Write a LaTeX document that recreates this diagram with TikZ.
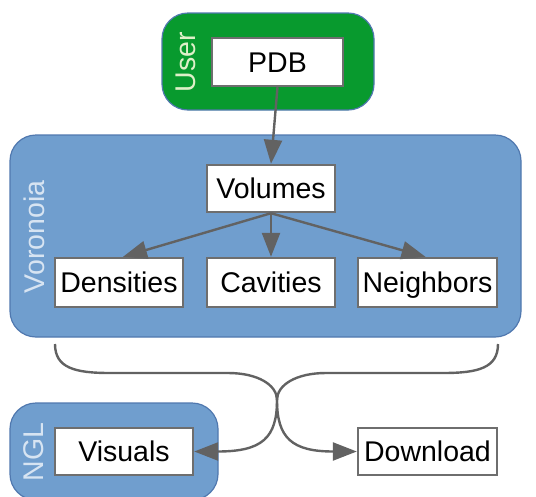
\documentclass[tikz,border=0pt]{standalone}
\usepackage{fontspec}
\setmainfont{Liberation Sans}
\usetikzlibrary{arrows.meta}
\definecolor{vblue}{RGB}{112,158,206}
\definecolor{vborder}{RGB}{80,120,175}
\definecolor{ugreen}{RGB}{8,154,46}
\definecolor{edgegray}{RGB}{98,98,98}
\definecolor{boxgray}{RGB}{110,110,110}
\definecolor{lbllight}{RGB}{215,228,242}
\definecolor{lblgreen}{RGB}{222,240,200}
\tikzset{
  cluster/.style={draw=vborder, line width=1.2pt, rounded corners=26pt, inner sep=0pt},
  wbox/.style={draw=boxgray, fill=white, line width=2.4pt, inner sep=0pt, text height=20.5pt, text depth=0pt, font=\fontsize{28.5}{30}\selectfont},
  clabel/.style={rotate=90, font=\fontsize{28.5}{30}\selectfont, inner sep=0pt},
  edge/.style={draw=edgegray, line width=2.4pt, -{Triangle[length=24pt,width=18pt]}},
  bline/.style={draw=edgegray, line width=2.4pt}
}
\begin{document}
\begin{tikzpicture}[x=1pt,y=-1pt]
\useasboundingbox (0,0) rectangle (536,496);
\clip (0,0) rectangle (536,496);
% clusters
\node[cluster, fill=ugreen, minimum width=212pt, minimum height=97pt] (user) at (268,61.5) {};
\node[cluster, fill=vblue, minimum width=511pt, minimum height=202pt] (vor) at (265.5,236) {};
\node[cluster, fill=vblue, minimum width=208pt, minimum height=97pt] (ngl) at (114,451.5) {};
% cluster labels
\node[clabel, text=lblgreen] (userlbl) at (186,62) {User};
\node[clabel, text=lbllight] (vorlbl) at (34,237) {Voronoia};
\node[clabel, text=lbllight] (ngllbl) at (34,452) {NGL};
% boxes
\node[wbox, minimum width=131pt, minimum height=48pt] (pdb) at (277.5,62) {PDB};
\node[wbox, minimum width=128pt, minimum height=47pt] (vol) at (271,188.5) {Volumes};
\node[wbox, minimum width=128pt, minimum height=49pt] (den) at (119,282.5) {Densities};
\node[wbox, minimum width=128pt, minimum height=49pt] (cav) at (271,282.5) {Cavities};
\node[wbox, minimum width=139pt, minimum height=49pt] (nei) at (427.5,282.5) {Neighbors};
\node[wbox, minimum width=138pt, minimum height=47pt] (vis) at (124,451.5) {Visuals};
\node[wbox, minimum width=139pt, minimum height=47pt] (dow) at (427.5,451.5) {Download};
% edges
\draw[edge] (pdb.south) -- (vol.north);
\draw[edge] (vol.south) -- ([xshift=4pt]den.north);
\draw[edge] (vol.south) -- (cav.north);
\draw[edge] (vol.south) -- ([xshift=-2pt]nei.north);
% brace-like connectors
\coordinate (ls) at (55,344);
\coordinate (rs) at (498,344);
\coordinate (mid) at (277,400);
\draw[bline] (ls) .. controls (55,368) and (75,373) .. (110,373) -- (228,373)
  .. controls (258,373) and (277,385) .. (mid);
\draw[bline] (rs) .. controls (498,368) and (478,373) .. (443,373) -- (326,373)
  .. controls (296,373) and (277,385) .. (mid);
\draw[edge] (mid) .. controls (277,438) and (262,451.5) .. (vis.east);
\draw[edge] (mid) .. controls (277,438) and (292,451.5) .. (dow.west);
\end{tikzpicture}
\end{document}
